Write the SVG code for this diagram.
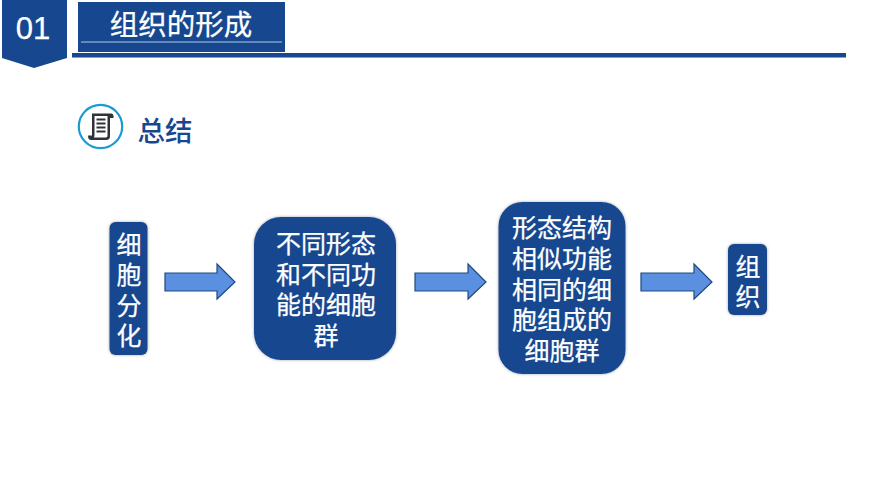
<svg xmlns="http://www.w3.org/2000/svg" width="870" height="489" viewBox="0 0 870 489">
<defs>
<filter id="glow" x="-15%" y="-15%" width="130%" height="130%"><feGaussianBlur in="SourceAlpha" stdDeviation="1.4"/><feComponentTransfer result="b"><feFuncA type="linear" slope="0.7"/></feComponentTransfer><feFlood flood-color="#6f7f8f"/><feComposite in2="b" operator="in"/><feMerge><feMergeNode/><feMergeNode in="SourceGraphic"/></feMerge></filter>
</defs>
<style>
.box{fill:#17478f;filter:url(#glow)}
.t{font-family:"Liberation Sans","Noto Sans CJK SC",sans-serif;fill:#fff;text-anchor:middle;stroke:#fff;stroke-width:.25}
.l{font-size:25px}
.a{fill:#5b90e0;stroke:#1f4a80;stroke-width:1.2}
</style>
<rect width="870" height="489" fill="#fff"/>
<g id="header">
<path d="M2 0H67V58L34 68L2 58Z" fill="#17478f"/>
<text class="t" x="33" y="39" font-size="31">01</text>
<rect x="78" y="2" width="207" height="50" fill="#17478f"/>
<line x1="81" y1="42" x2="282" y2="42" stroke="#b4c9e6" stroke-width="1.200"/>
<text class="t" x="181" y="35" font-size="28.500">组织的形成</text>
<rect x="72" y="53" width="774" height="4.500" fill="#17478f"/>
</g>
<g id="summary">
<circle cx="100.500" cy="126.500" r="21.700" fill="#fff" stroke="#1b9bd3" stroke-width="2.200"/>
<path d="M92 113.500H111C113 113.500 114 115.500 113.500 118H110V136C110 138.500 109 140 106 140H91C89 140 88 138.500 88 135.500H92Z" fill="#2f3338"/>
<path d="M94.500 116H107.500V135.500C107.500 136.800 107 137.500 106 137.500H94L94.500 135.500Z" fill="#fff"/>
<path d="M96.500 119.500H105.500M96.500 123.500H105.500M96.500 127.500H105.500M96.500 131.500H105.500" stroke="#2f3338" stroke-width="2"/>
<text x="165" y="141" font-size="27.500" font-family="'Liberation Sans','Noto Sans CJK SC',sans-serif" fill="#17478f" text-anchor="middle" font-weight="500">总结</text>
</g>
<g id="connectors">
<path class="a" d="M165 273H217V264L235 282L217 299V291H165Z"/>
<path class="a" d="M415 273H468V264L486 282L468 299V291H415Z"/>
<path class="a" d="M641 273H694V264L712 282L694 299V291H641Z"/>
</g>
<g id="n1">
<rect class="box" x="109.500" y="222" width="38" height="133" rx="6"/>
<text class="t l" x="129" y="254">细</text><text class="t l" x="129" y="284">胞</text><text class="t l" x="129" y="315">分</text><text class="t l" x="129" y="345">化</text>
</g>
<g id="n2">
<rect class="box" x="254" y="217" width="142" height="143" rx="27"/>
<text class="t l" x="326" y="253">不同形态</text><text class="t l" x="326" y="284">和不同功</text><text class="t l" x="326" y="314">能的细胞</text><text class="t l" x="326" y="345">群</text>
</g>
<g id="n3">
<rect class="box" x="498.500" y="202" width="127" height="172" rx="24"/>
<text class="t l" x="562" y="237">形态结构</text><text class="t l" x="562" y="268">相似功能</text><text class="t l" x="562" y="299">相同的细</text><text class="t l" x="562" y="329">胞组成的</text><text class="t l" x="562" y="360">细胞群</text>
</g>
<g id="n4">
<rect class="box" x="728" y="244" width="39" height="71" rx="6"/>
<text class="t l" x="748" y="276">组</text><text class="t l" x="748" y="306">织</text>
</g>
</svg>
